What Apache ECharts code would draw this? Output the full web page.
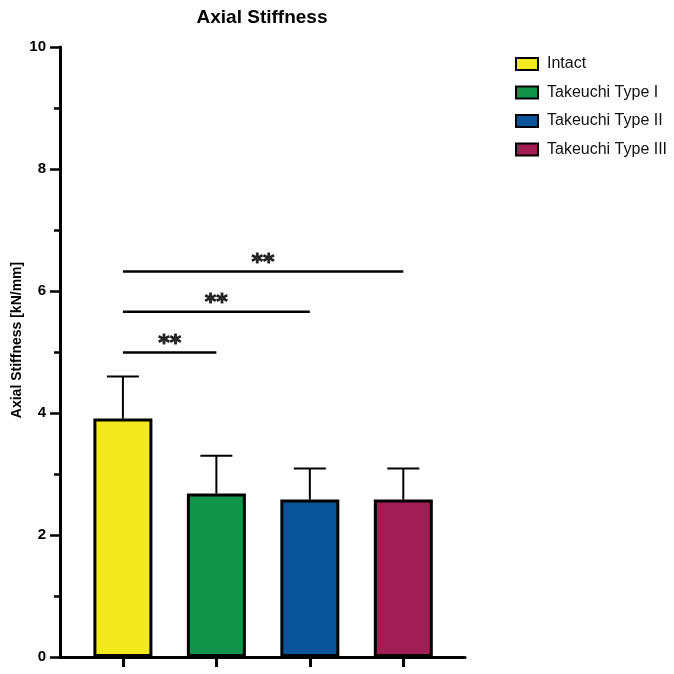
<!DOCTYPE html>
<html>
<head>
<meta charset="utf-8">
<script src="https://cdn.jsdelivr.net/npm/echarts@6/dist/echarts.min.js"></script>
<style>
  html, body { margin: 0; padding: 0; background: #fff; }
  #container { width: 674px; height: 674px; }
</style>
</head>
<body>
<div id="container"></div>
<script>
// groups (one bar each)
var groups = ['Intact', 'Takeuchi Type I', 'Takeuchi Type II', 'Takeuchi Type III'];
var means = [3.91, 2.68, 2.58, 2.58];
var errTops = [4.6, 3.3, 3.09, 3.09];
var colors = ['#f3ea1e', '#0f944a', '#0a5599', '#a11e52'];
// significance brackets: from group index, to group index, height
var bracketFrom = [0, 0, 0];
var bracketTo = [1, 2, 3];
var bracketY = [4.99, 5.66, 6.32];
var bracketText = ['**', '**', '**'];

var FONT = '"Liberation Sans", Arial, Helvetica, sans-serif';

var dom = document.getElementById('container');
var myChart = echarts.init(dom, null, { renderer: 'canvas' });

var series = [];
// bars, one series per group so the legend gets them
groups.forEach(function (name, i) {
    series.push({
        name: name,
        type: 'bar',
        barWidth: 59,
        barGap: '-100%',
        data: [[i, means[i]]],
        itemStyle: { color: colors[i], borderColor: '#000', borderWidth: 3 },
        z: 2
    });
});

// error bars (upper only)
series.push({
    type: 'custom',
    name: 'err',
    z: 1,
    data: groups.map(function (g, i) { return [i, means[i], errTops[i]]; }),
    renderItem: function (params, api) {
        var base = api.coord([api.value(0), api.value(1)]);
        var top = api.coord([api.value(0), api.value(2)]);
        var half = 16;
        return {
            type: 'group',
            children: [
                { type: 'line', shape: { x1: base[0], y1: base[1], x2: top[0], y2: top[1] },
                  style: { stroke: '#000', lineWidth: 2 } },
                { type: 'line', shape: { x1: top[0] - half, y1: top[1], x2: top[0] + half, y2: top[1] },
                  style: { stroke: '#000', lineWidth: 2 } }
            ]
        };
    }
});

// significance brackets
bracketY.forEach(function (y, k) {
    series.push({
        type: 'line',
        name: 'sig' + k,
        symbol: 'none',
        silent: true,
        lineStyle: { color: '#000', width: 2.5 },
        data: [[bracketFrom[k], y], [bracketTo[k], y]],
        z: 3
    });
    series.push({
        type: 'scatter',
        name: 'sigLabel' + k,
        symbolSize: 0,
        silent: true,
        data: [[(bracketFrom[k] + bracketTo[k]) / 2, y]],
        label: {
            show: true,
            position: 'top',
            distance: -3,
            formatter: bracketText[k],
            color: '#000',
            fontSize: 22,
            fontWeight: 'bold',
            fontFamily: '"DejaVu Sans", sans-serif',
            textBorderColor: '#000',
            textBorderWidth: 1
        },
        z: 3
    });
});

var option = {
    backgroundColor: '#fff',
    animation: false,
    title: {
        text: 'Axial Stiffness',
        left: 257,
        top: 3,
        textAlign: 'center',
        textStyle: { fontSize: 19, fontWeight: 'bold', color: '#000', fontFamily: FONT }
    },
    legend: {
        data: groups,
        orient: 'vertical',
        left: 510,
        top: 51,
        itemWidth: 22,
        itemHeight: 12,
        itemGap: 12.5,
        icon: 'rect',
        textStyle: { fontSize: 16, color: '#111', fontFamily: FONT, padding: [0, 0, 0, 4] }
    },
    grid: { left: 60, right: 209, top: 47, bottom: 17, containLabel: false, outerBoundsMode: 'none' },
    xAxis: {
        type: 'value',
        min: -0.673,
        max: 3.66,
        splitLine: { show: false },
        axisLine: { show: true, lineStyle: { color: '#000', width: 3 } },
        axisTick: {
            show: true,
            customValues: [0, 1, 2, 3],
            length: 10,
            inside: false,
            lineStyle: { color: '#000', width: 3 }
        },
        axisLabel: { show: false }
    },
    yAxis: {
        type: 'value',
        min: 0,
        max: 10,
        interval: 2,
        name: 'Axial Stiffness [kN/mm]',
        nameLocation: 'middle',
        nameGap: 36,
        nameMoveOverlap: false,
        nameTextStyle: { fontSize: 14, fontWeight: 'bold', color: '#000', fontFamily: FONT,
                         padding: [0, 0, 0, 24] },
        splitLine: { show: false },
        axisLine: { show: true, onZero: false, lineStyle: { color: '#000', width: 3 } },
        axisTick: { show: true, length: 10, lineStyle: { color: '#000', width: 2.5 } },
        minorTick: { show: true, splitNumber: 2, length: 6, lineStyle: { color: '#000', width: 2.5 } },
        axisLabel: { fontSize: 15, fontWeight: 'bold', color: '#000', fontFamily: FONT, margin: 14 }
    },
    series: series
};

myChart.setOption(option);
</script>
</body>
</html>
